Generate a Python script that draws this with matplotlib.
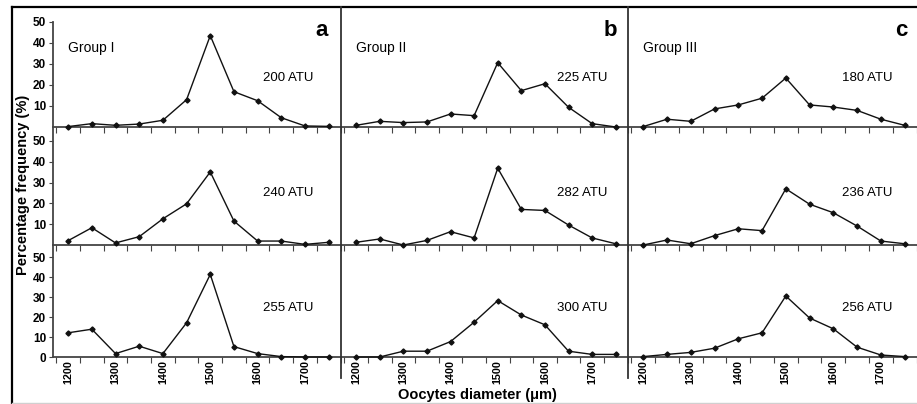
import numpy as np
import matplotlib
matplotlib.use('Agg')
import matplotlib.pyplot as plt
from matplotlib.lines import Line2D

plt.rcParams['font.family'] = ['Liberation Sans', 'DejaVu Sans']

# Diametros de los oocitos (categorias del eje x)
diametros = [1200, 1250, 1300, 1350, 1400, 1450, 1500, 1550, 1600, 1650, 1700, 1750]
etiquetas_x = ['1200', '1300', '1400', '1500', '1600', '1700']
pos_etiquetas_x = [1200, 1300, 1400, 1500, 1600, 1700]

# Grupo I (a)
g1_200 = [0.2, 1.6, 0.8, 1.4, 3.2, 13.0, 43.5, 16.8, 12.5, 4.4, 0.5, 0.3]
g1_240 = [2.1, 8.3, 1.0, 4.0, 12.6, 19.8, 35.1, 11.5, 1.9, 1.9, 0.3, 1.3]
g1_255 = [12.1, 13.9, 1.7, 5.4, 1.7, 17.1, 41.3, 5.2, 1.7, 0.2, 0.0, 0.0]
# Grupo II (b)
g2_225 = [0.8, 2.7, 2.1, 2.4, 6.2, 5.4, 30.6, 17.3, 20.6, 9.4, 1.6, 0.0]
g2_282 = [1.3, 2.9, 0.0, 2.2, 6.4, 3.4, 36.9, 17.1, 16.6, 9.6, 3.4, 0.6]
g2_300 = [0.0, 0.0, 2.9, 2.9, 7.7, 17.4, 28.2, 21.0, 16.1, 2.9, 1.3, 1.3]
# Grupo III (c)
g3_180 = [0.2, 3.7, 2.7, 8.6, 10.5, 13.7, 23.3, 10.5, 9.5, 7.9, 3.7, 0.8]
g3_236 = [0.0, 2.4, 0.6, 4.5, 7.8, 6.9, 27.0, 19.6, 15.5, 9.1, 1.9, 0.6]
g3_256 = [0.2, 1.3, 2.3, 4.4, 9.1, 12.1, 30.5, 19.5, 14.1, 4.9, 1.0, 0.2]

datos = [[g1_200, g1_240, g1_255],
         [g2_225, g2_282, g2_300],
         [g3_180, g3_236, g3_256]]
etiquetas_atu = [['200 ATU', '240 ATU', '255 ATU'],
                 ['225 ATU', '282 ATU', '300 ATU'],
                 ['180 ATU', '236 ATU', '256 ATU']]
grupos = ['Group I', 'Group II', 'Group III']
letras = ['a', 'b', 'c']

W, H = 917, 404
fig = plt.figure(figsize=(W / 100, H / 100), dpi=100)


def caja(x0, y0, x1, y1):
    # pixeles (origen arriba-izquierda) -> fraccion de figura
    return [x0 / W, 1 - y1 / H, (x1 - x0) / W, (y1 - y0) / H]


def fx(x):
    return x / W


def fy(y):
    return 1 - y / H


columnas = [(53, 341), (341, 628), (628, 917)]
filas = [(7, 127, 57.1), (127, 245, 56.7), (245, 357, 56.0)]
x_atu = [263, 557, 842]
y_atu = [78, 193, 308]
x_letra = [328, 617, 907]

for j, col in enumerate(columnas):
    for i, fila in enumerate(filas):
        ax = fig.add_axes(caja(col[0], fila[0], col[1], fila[1]))
        ax.patch.set_alpha(0)
        ax.plot(diametros, datos[j][i], color='#111111', lw=1.0, marker='D',
                ms=2.6, clip_on=False, zorder=5)
        ax.set_xlim(1168, 1776)
        ax.set_ylim(0, fila[2])
        ax.spines['top'].set_visible(False)
        ax.spines['right'].set_visible(False)
        ax.spines['bottom'].set_color('#444444')
        ax.spines['bottom'].set_linewidth(1.3)

        # ticks del eje x entre categorias
        ax.set_xticks(np.arange(1175, 1776, 50))
        ax.tick_params(axis='x', which='major', direction='out', length=4,
                       width=0.8, color='#444444', labelbottom=False)
        ax.set_xticks(pos_etiquetas_x, minor=True)
        if i == 2:
            ax.set_xticklabels(etiquetas_x, minor=True, rotation=90,
                               fontweight='bold', fontsize=7.8)
            ax.tick_params(axis='x', which='minor', length=0, pad=2)
        else:
            ax.tick_params(axis='x', which='minor', length=0, labelbottom=False)

        if j == 0:
            ax.spines['left'].set_color('#444444')
            ax.spines['left'].set_linewidth(1.3)
            if i == 0:
                ax.spines['left'].set_bounds(0, 50)
            if i == 2:
                ax.set_yticks([0, 10, 20, 30, 40, 50])
            else:
                ax.set_yticks([10, 20, 30, 40, 50])
            for t in ax.get_yticklabels():
                t.set_fontweight('bold')
            ax.tick_params(axis='y', direction='out', length=3, width=0.8,
                           labelsize=8.5, pad=2, color='#444444')
        else:
            ax.spines['left'].set_visible(False)
            ax.set_yticks([])

        fig.text(fx(x_atu[j]), fy(y_atu[i]), etiquetas_atu[j][i], fontsize=9.5,
                 ha='left', va='center')

    fig.text(fx(col[0] + 15), fy(48), grupos[j], fontsize=10, ha='left', va='center')
    fig.text(fx(x_letra[j]), fy(31), letras[j], fontsize=16, fontweight='bold',
             ha='right', va='center')

# etiquetas de los ejes
fig.text(fx(23), fy(185), 'Percentage frequency (%)', rotation=90, fontsize=10.5,
         fontweight='bold', ha='center', va='center')
fig.text(fx(477), fy(395), 'Oocytes diameter (\u03bcm)', fontsize=10.5,
         fontweight='bold', ha='center', va='center')

# marco exterior y separadores de columnas
lineas = [
    ([12, 917], [7, 7], 'black', 1.6),
    ([12, 12], [7, 404], 'black', 1.6),
    ([341, 341], [7, 378], '#333333', 1.3),
    ([628, 628], [7, 378], '#333333', 1.3),
    ([12, 917], [402.5, 402.5], '#d0d0d0', 1.0),
]
for xs, ys, c, lw in lineas:
    fig.add_artist(Line2D([fx(x) for x in xs], [fy(y) for y in ys], color=c, lw=lw))

fig.savefig('out.png', dpi=100)
